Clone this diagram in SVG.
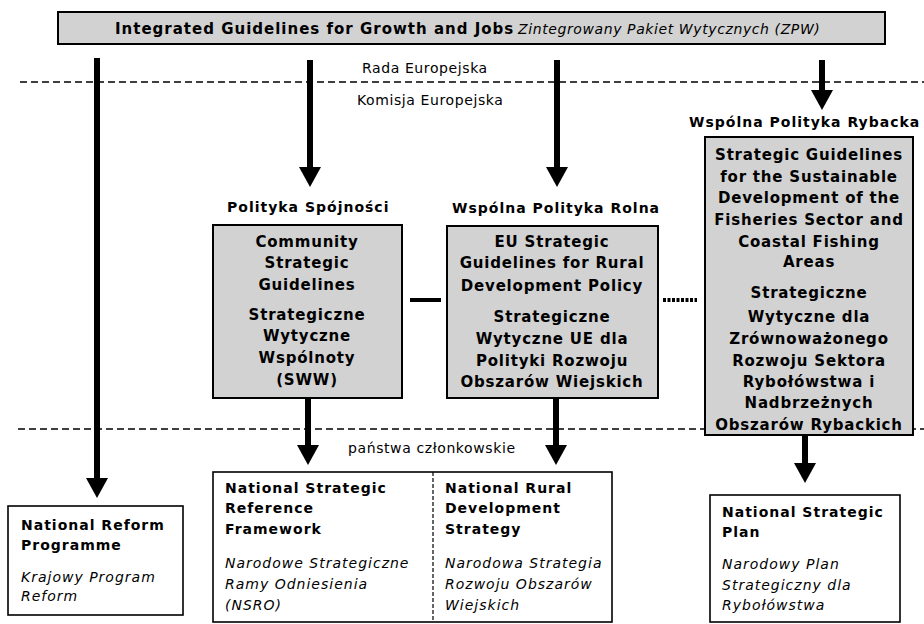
<svg xmlns="http://www.w3.org/2000/svg" width="924" height="624" viewBox="0 0 924 624">
<style>
text{font-family:"DejaVu Sans","Liberation Sans",sans-serif;fill:#000}
.b{font-weight:bold;font-size:14px;letter-spacing:1px}
.g{font-weight:bold;font-size:15px;letter-spacing:0.8px;text-anchor:middle}
.i{font-style:italic;font-size:14px;letter-spacing:1px}
.r{font-size:14px;letter-spacing:0.6px}
.gray{fill:#d2d2d2;stroke:#000;stroke-width:2}
.white{fill:#fff;stroke:#000;stroke-width:1.6}
.sep{stroke:#000;stroke-width:1.4;stroke-dasharray:7 4;fill:none}
.arr{stroke:#000;stroke-width:6;fill:none;marker-end:url(#ah)}
</style>
<defs>
<marker id="ah" markerUnits="userSpaceOnUse" viewBox="0 0 20 22" refX="0" refY="11" markerWidth="20" markerHeight="22" orient="auto">
<path d="M0,0 L20,11 L0,22 Z" fill="#000"/>
</marker>
</defs>
<rect width="924" height="624" fill="#fff"/>
<g id="levels">
<line class="sep" x1="20" y1="82" x2="924" y2="82"/>
<line class="sep" x1="18" y1="429" x2="924" y2="429"/>
<text class="r" x="362" y="73">Rada Europejska</text>
<text class="r" x="357" y="105">Komisja Europejska</text>
<text class="r" x="348" y="453">państwa członkowskie</text>
</g>
<g id="connectors">
<line class="arr" x1="97" y1="58" x2="97" y2="478"/>
<line class="arr" x1="310" y1="60" x2="310" y2="167"/>
<line class="arr" x1="557" y1="60" x2="557" y2="167"/>
<line class="arr" x1="822" y1="60" x2="822" y2="90"/>
<line class="arr" x1="308" y1="398" x2="308" y2="445"/>
<line class="arr" x1="556" y1="398" x2="556" y2="445"/>
<line class="arr" x1="805" y1="435" x2="805" y2="463"/>
<line x1="410" y1="300" x2="441" y2="300" stroke="#000" stroke-width="4"/>
<line x1="663" y1="300" x2="697" y2="300" stroke="#000" stroke-width="4" stroke-dasharray="3 1.5"/>
</g>
<g id="igpj">
<rect class="gray" x="58" y="12" width="827" height="32"/>
<text x="115" y="34" style="font-weight:bold;font-size:15px;letter-spacing:1px">Integrated Guidelines for Growth and Jobs</text>
<text x="518" y="34" style="font-style:italic;font-size:14px;letter-spacing:0.6px">Zintegrowany Pakiet Wytycznych (ZPW)</text>
</g>
<g id="cohesion">
<text class="b" x="227" y="212">Polityka Spójności</text>
<rect class="gray" x="213" y="225" width="189" height="173"/>
<text class="g" x="307" y="247">Community</text>
<text class="g" x="307" y="268">Strategic</text>
<text class="g" x="307" y="290">Guidelines</text>
<text class="g" x="307" y="320">Strategiczne</text>
<text class="g" x="307" y="341">Wytyczne</text>
<text class="g" x="307" y="363">Wspólnoty</text>
<text class="g" x="307" y="385">(SWW)</text>
</g>
<g id="agri">
<text class="b" x="452" y="213">Wspólna Polityka Rolna</text>
<rect class="gray" x="447" y="226" width="211" height="172"/>
<text class="g" x="552" y="247">EU Strategic</text>
<text class="g" x="552" y="268">Guidelines for Rural</text>
<text class="g" x="552" y="291">Development Policy</text>
<text class="g" x="552" y="322">Strategiczne</text>
<text class="g" x="552" y="344">Wytyczne UE dla</text>
<text class="g" x="552" y="366">Polityki Rozwoju</text>
<text class="g" x="552" y="387">Obszarów Wiejskich</text>
</g>
<g id="fish">
<text class="b" x="689" y="127">Wspólna Polityka Rybacka</text>
<rect class="gray" x="705" y="137" width="208" height="298"/>
<text class="g" x="809" y="160">Strategic Guidelines</text>
<text class="g" x="809" y="182">for the Sustainable</text>
<text class="g" x="809" y="203">Development of the</text>
<text class="g" x="809" y="225">Fisheries Sector and</text>
<text class="g" x="809" y="247">Coastal Fishing</text>
<text class="g" x="809" y="267">Areas</text>
<text class="g" x="809" y="298">Strategiczne</text>
<text class="g" x="809" y="322">Wytyczne dla</text>
<text class="g" x="809" y="344">Zrównoważonego</text>
<text class="g" x="809" y="366">Rozwoju Sektora</text>
<text class="g" x="809" y="387">Rybołówstwa i</text>
<text class="g" x="809" y="408">Nadbrzeżnych</text>
<text class="g" x="809" y="430">Obszarów Rybackich</text>
</g>
<g id="nrp">
<rect class="white" x="8" y="506" width="175" height="109"/>
<text class="b" x="21" y="530">National Reform</text>
<text class="b" x="21" y="550">Programme</text>
<text class="i" x="21" y="582">Krajowy Program</text>
<text class="i" x="21" y="601">Reform</text>
</g>
<g id="national">
<rect class="white" x="213" y="472" width="399" height="150"/>
<line x1="433" y1="472" x2="433" y2="622" stroke="#000" stroke-width="1.2" stroke-dasharray="4 2"/>
<text class="b" x="225" y="493">National Strategic</text>
<text class="b" x="225" y="513">Reference</text>
<text class="b" x="225" y="534">Framework</text>
<text class="i" x="225" y="568">Narodowe Strategiczne</text>
<text class="i" x="225" y="589">Ramy Odniesienia</text>
<text class="i" x="225" y="610">(NSRO)</text>
<text class="b" x="445" y="493">National Rural</text>
<text class="b" x="445" y="513">Development</text>
<text class="b" x="445" y="534">Strategy</text>
<text class="i" x="445" y="568">Narodowa Strategia</text>
<text class="i" x="445" y="589">Rozwoju Obszarów</text>
<text class="i" x="445" y="610">Wiejskich</text>
</g>
<g id="nsp">
<rect class="white" x="710" y="495" width="190" height="127"/>
<text class="b" x="722" y="517">National Strategic</text>
<text class="b" x="722" y="537">Plan</text>
<text class="i" x="722" y="569">Narodowy Plan</text>
<text class="i" x="722" y="590">Strategiczny dla</text>
<text class="i" x="722" y="610">Rybołówstwa</text>
</g>
</svg>
